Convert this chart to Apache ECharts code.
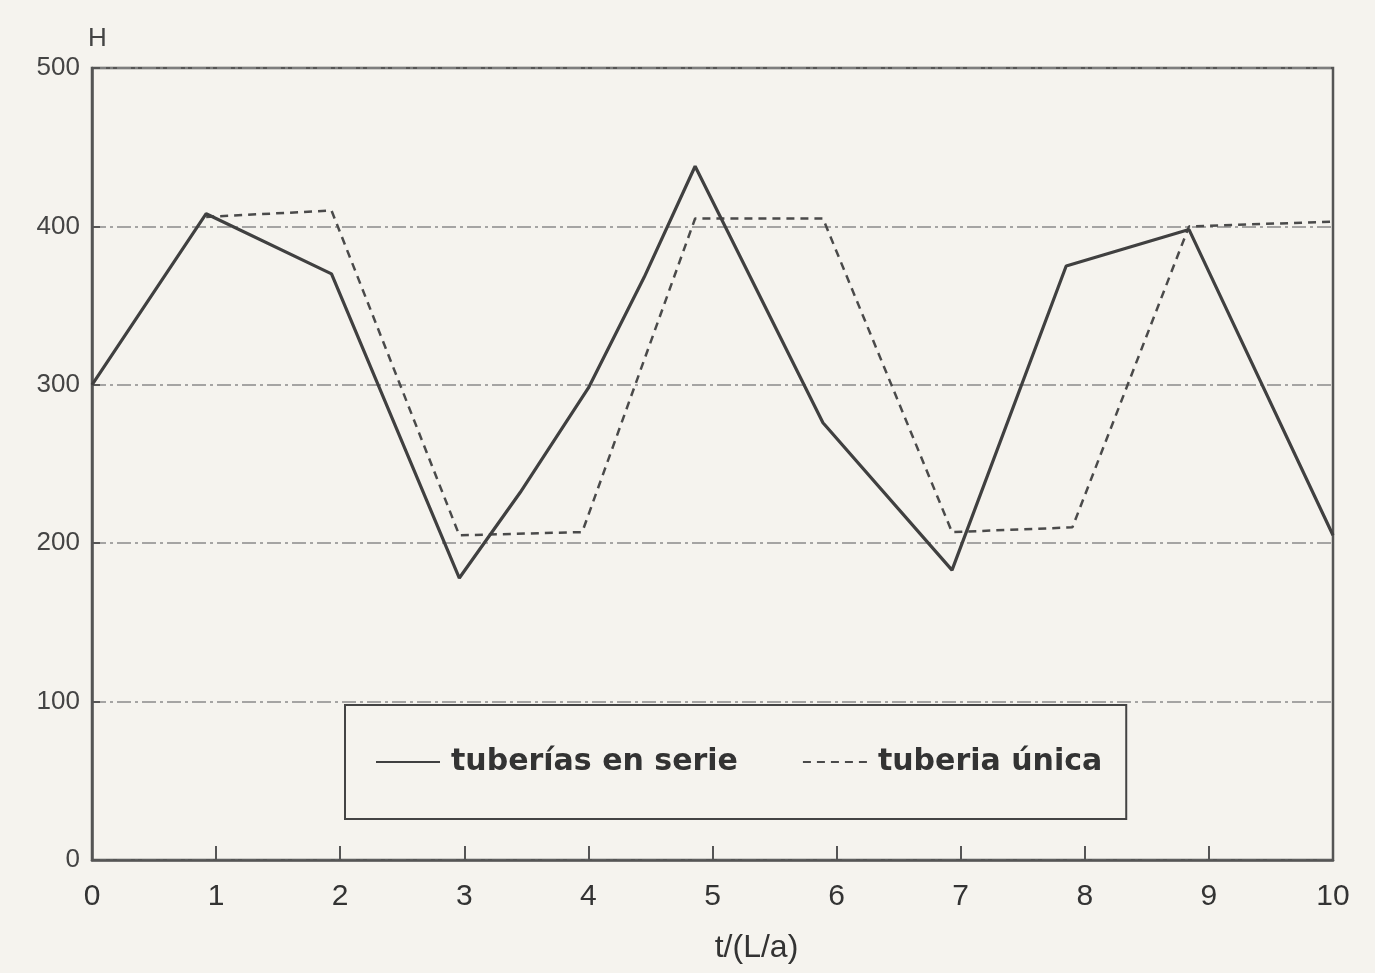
<!DOCTYPE html>
<html>
<head>
<meta charset="utf-8">
<script src="https://cdn.jsdelivr.net/npm/echarts@6/dist/echarts.min.js"></script>
<style>
html,body{margin:0;padding:0;background:#f5f3ee;}
#c{width:1375px;height:973px;}
</style>
</head>
<body>
<div id="c"></div>
<script>
// tuberías en serie (solid)
const tSerie = [0, 0.92, 1.93, 2.96, 3.45, 4.0, 4.45, 4.86, 5.89, 6.93, 7.85, 8.84, 10];
const hSerie = [300, 408, 370, 178, 232, 298, 368, 438, 276, 183, 375, 398, 205];
// tuberia única (dashed)
const tUnica = [0.92, 1.93, 2.96, 3.95, 4.86, 5.89, 6.93, 7.9, 8.84, 10];
const hUnica = [406, 410, 205, 207, 405, 405, 207, 210, 400, 403];
const xTicks = [0,1,2,3,4,5,6,7,8,9,10];
const yTicks = [0,100,200,300,400,500];
const seriesNames = ['tuberías en serie', 'tuberia única'];

const font = '"Liberation Sans", Arial, sans-serif';
const legendFont = '"DejaVu Sans", "Liberation Sans", sans-serif';
const chart = echarts.init(document.getElementById('c'));
chart.setOption({
  backgroundColor: '#f5f3ee',
  animation: false,
  grid: {left: 92, right: 42, top: 68, bottom: 113, show: true, borderColor: '#555', borderWidth: 2.5, backgroundColor: 'transparent'},
  legend: {
    left: 345, top: 705,
    padding: [42, 24, 42, 30],
    borderColor: '#444', borderWidth: 2,
    itemWidth: 64, itemHeight: 14, itemGap: 64,
    itemStyle: {color: 'rgba(0,0,0,0)', borderColor: 'rgba(0,0,0,0)', borderWidth: 0, opacity: 0},
    textStyle: {fontFamily: legendFont, fontSize: 30, fontWeight: 'bold', color: '#333', padding: [0,0,0,6]},
    data: seriesNames
  },
  xAxis: {
    type: 'value', min: xTicks[0], max: xTicks[xTicks.length-1], interval: 1,
    name: 't/(L/a)', nameLocation: 'middle', nameGap: 72,
    nameTextStyle: {fontFamily: font, fontSize: 32, color: '#333', padding: [0,0,0,88]},
    axisLine: {lineStyle: {color: '#555', width: 2.5}},
    axisTick: {inside: true, length: 14, lineStyle: {color: '#555', width: 2}},
    axisLabel: {fontFamily: font, fontSize: 30, color: '#333', margin: 22},
    splitLine: {show: false}
  },
  yAxis: {
    type: 'value', min: yTicks[0], max: yTicks[yTicks.length-1], interval: 100,
    name: 'H', nameLocation: 'end', nameGap: 16,
    nameTextStyle: {fontFamily: font, fontSize: 26, color: '#444', align: 'left', padding: [0,0,0,-4]},
    axisLine: {show: true, lineStyle: {color: '#555', width: 2.5}},
    axisTick: {inside: true, length: 8, lineStyle: {color: '#555', width: 2}},
    axisLabel: {fontFamily: font, fontSize: 26, color: '#444', margin: 12},
    splitLine: {show: true, lineStyle: {color: '#8a8a8a', width: 1.5, type: [14, 4, 3, 4]}}
  },
  series: [
    {
      name: seriesNames[1], type: 'line', symbol: 'none',
      data: tUnica.map((t, i) => [t, hUnica[i]]),
      lineStyle: {color: '#4a4a4a', width: 2.5, type: [8, 6]},
      itemStyle: {color: '#4a4a4a'}, z: 2
    },
    {
      name: seriesNames[0], type: 'line', symbol: 'none',
      data: tSerie.map((t, i) => [t, hSerie[i]]),
      lineStyle: {color: '#404040', width: 3.2, type: 'solid'},
      itemStyle: {color: '#404040'}, z: 3
    }
  ]
});
</script>
</body>
</html>
